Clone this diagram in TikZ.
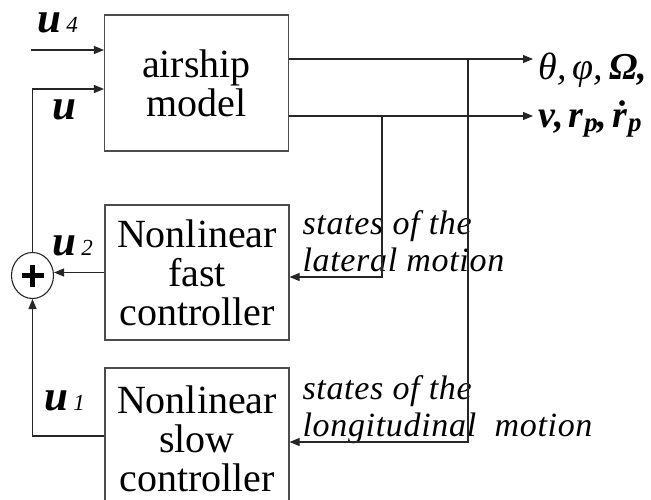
\documentclass[tikz,border=0pt]{standalone}
\usepackage{fontspec}
\setmainfont{Liberation Serif}
\usetikzlibrary{arrows.meta,positioning,shapes.geometric}
\newcommand{\usub}[2][u]{\textbf{\textit{#1}}\kern5pt{\fontsize{23}{23}\selectfont\mdseries\itshape #2}}
\newcommand{\psub}[1]{#1\kern1pt\raisebox{-4pt}{\fontsize{27}{27}\selectfont p}}

\begin{document}
\begin{tikzpicture}[
  x=1pt, y=-1pt, >={Triangle[length=10pt,width=8pt]},
  line width=1.1pt,
  blk/.style={draw=black!70,align=center,inner sep=0pt,minimum width=184pt,font=\fontsize{40}{39}\selectfont},
  conn/.style={draw=black!85},
  sig/.style={inner sep=0pt,font=\fontsize{43}{44}\selectfont\bfseries\itshape},
  outlbl/.style={inner sep=0pt,font=\fontsize{38}{40}\selectfont\bfseries\itshape},
  st/.style={inner sep=0pt,align=left,font=\fontsize{34}{37}\selectfont\itshape\addfontfeature{LetterSpace=2}}]
\useasboundingbox (0,0) rectangle (651,500);
% blocks
\node[blk,minimum height=136pt] (air) at (196.5,83) {airship\\model};
\node[blk,minimum height=135pt] (fast) at (197,272.5) {Nonlinear\\fast\\controller};
\node[blk,minimum height=142pt] (slow) at (197,439) {Nonlinear\\slow\\controller};
\node[ellipse,draw=black!85,minimum width=42pt,minimum height=46pt,inner sep=0pt] (sum) at (32.5,275.5) {};
\draw[line width=4.2pt] ([xshift=-11pt]sum.center) -- ([xshift=11pt]sum.center)
  ([yshift=-11pt]sum.center) -- ([yshift=11pt]sum.center);
% labels
\node[sig,anchor=base west] (u4lbl) at (37,33) {\usub{4}};
\node[sig,anchor=base west] (ulbl) at (52,120) {u};
\node[sig,anchor=base west] (u2lbl) at (52,255) {\usub{2}};
\node[sig,anchor=base west] (u1lbl) at (44,410) {\usub{1}};
\node[outlbl,anchor=base west] (angles) at (538,80) {{\mdseries θ,\kern6pt φ,}\kern6pt Ω,};
\node[outlbl,anchor=base west] (vel) at (538,128) {v,\kern5pt\psub{r},\kern5pt\psub{ṙ}};
\node[st,anchor=north west] (latlbl) at (302,210) {states of the\\lateral motion};
\node[st,anchor=north west] (lonlbl) at (302,375) {states of the\\longitudinal\ \ motion};
% connectors
\coordinate (u4in) at (31,50);
\coordinate (o1) at (533,59);
\coordinate (o2) at (533,116);
\coordinate (tapl) at (382,116);
\coordinate (tapn) at (468,59);
\draw[conn,->] (u4in) -- (u4in -| air.west);
\draw[conn,->] (sum.north) |- ([yshift=-6pt]air.west);
\draw[conn,->] (air.east |- o1) -- (o1);
\draw[conn,->] (air.east |- o2) -- (o2);
\draw[conn,->] (tapl) |- ([yshift=-4.5pt]fast.east);
\draw[conn,->] (tapn) |- ([yshift=-3pt]slow.east);
\draw[conn,->] (fast.west) -- (fast.west -| sum.east);
\draw[conn,->] ([yshift=3pt]slow.west) -| (sum.south);
\end{tikzpicture}
\end{document}
